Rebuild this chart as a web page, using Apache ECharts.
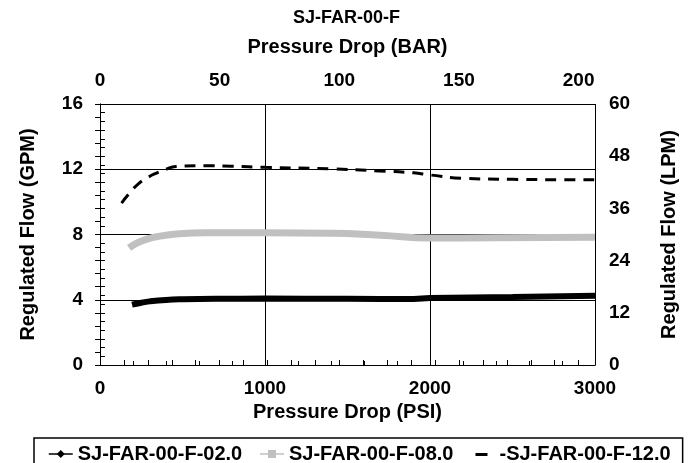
<!DOCTYPE html>
<html>
<head>
<meta charset="utf-8">
<script src="https://cdn.jsdelivr.net/npm/echarts@6/dist/echarts.min.js"></script>
<style>
  html, body { margin: 0; padding: 0; background: #fff; }
  #chart { width: 693px; height: 463px; }
</style>
</head>
<body>
<div id="chart"></div>
<script>
// SJ-FAR-00-F flow curves (pressure drop psi -> regulated flow gpm)
var psi02 = [194, 250, 300, 400, 500, 700, 1000, 1500, 1900, 2000, 2500, 3000];
var gpm02 = [3.7, 3.82, 3.9, 3.99, 4.03, 4.06, 4.07, 4.06, 4.05, 4.1, 4.17, 4.25];

var psi08 = [176, 220, 279, 350, 479, 650, 1000, 1400, 1700, 2000, 2400, 3000];
var gpm08 = [7.18, 7.45, 7.7, 7.88, 8.04, 8.1, 8.1, 8.08, 7.95, 7.78, 7.8, 7.83];

var psi12 = [131, 180, 236, 290, 339, 400, 460, 642, 800, 1000, 1400, 1691, 1900, 2000, 2195, 2500, 3000];
var gpm12 = [9.93, 10.55, 11.14, 11.5, 11.75, 12.0, 12.17, 12.22, 12.18, 12.12, 12.02, 11.9, 11.78, 11.65, 11.45, 11.38, 11.35];

var seriesNames = ['SJ-FAR-00-F-02.0', 'SJ-FAR-00-F-08.0', '-SJ-FAR-00-F-12.0'];

var PSI_PER_BAR = 14.5038;
var font = 'Liberation Sans, Arial, sans-serif';

function pairs(xs, ys) {
  var out = [];
  for (var i = 0; i < xs.length; i++) out.push([xs[i], ys[i]]);
  return out;
}

var myChart = echarts.init(document.getElementById('chart'));

var lbl = { color: '#000', fontWeight: 'bold', fontSize: 19, fontFamily: font,
            formatter: function (v) { return String(v); } };
var nameStyle = { color: '#000', fontWeight: 'bold', fontSize: 20, fontFamily: font };
var axLine = { show: true, lineStyle: { color: '#000', width: 1 } };
var blackTick = { color: '#000', width: 1 };

var option = {
  animation: false,
  title: {
    text: 'SJ-FAR-00-F',
    left: 'center',
    top: 4,
    textStyle: { color: '#000', fontWeight: 'bold', fontSize: 18, fontFamily: font }
  },
  grid: { left: 100, right: 98, top: 104, bottom: 98 },
  legend: {
    left: 34,
    top: 438,
    width: 640,
    padding: [6, 12, 6, 14],
    itemGap: 17,
    itemWidth: 24,
    itemHeight: 10,
    borderColor: '#000',
    borderWidth: 1.5,
    textStyle: { color: '#000', fontWeight: 'bold', fontSize: 20, fontFamily: font },
    data: [
      { name: seriesNames[0], itemStyle: { color: '#000' }, lineStyle: { width: 1.5 } },
      { name: seriesNames[1], itemStyle: { color: '#c0c0c0' }, lineStyle: { width: 1.5 } },
      { name: seriesNames[2], icon: 'path://M0,0L0.1,0M5,4L17,4L17,7L5,7ZM24,10L23.9,10',
        itemStyle: { color: '#000' } }
    ]
  },
  xAxis: [{
    type: 'value',
    position: 'bottom',
    min: 0, max: 3000, interval: 1000,
    name: 'Pressure Drop (PSI)',
    nameLocation: 'middle',
    nameGap: 31,
    nameTextStyle: nameStyle,
    axisLine: axLine,
    axisTick: { show: true, inside: true, length: 4, lineStyle: blackTick },
    minorTick: { show: true, splitNumber: 5, length: 4, lineStyle: blackTick },
    axisLabel: Object.assign({ margin: 14 }, lbl),
    splitLine: { show: true, lineStyle: { color: '#000', width: 1 } }
  }, {
    type: 'value',
    position: 'top',
    min: 0, max: 3000 / PSI_PER_BAR, interval: 50,
    name: 'Pressure Drop (BAR)',
    nameLocation: 'middle',
    nameGap: 47,
    nameTextStyle: nameStyle,
    axisLine: axLine,
    axisTick: { show: true, length: 5, lineStyle: blackTick },
    minorTick: { show: true, splitNumber: 5, length: 5, lineStyle: blackTick },
    axisLabel: Object.assign({ margin: 14, showMaxLabel: false }, lbl),
    splitLine: { show: false }
  }],
  yAxis: [{
    type: 'value',
    position: 'left',
    min: 0, max: 16, interval: 4,
    name: 'Regulated Flow (GPM)',
    nameLocation: 'middle',
    nameGap: 62,
    nameTextStyle: nameStyle,
    axisLine: axLine,
    axisTick: { show: true, length: 5, lineStyle: blackTick },
    minorTick: { show: true, splitNumber: 5, length: 5, lineStyle: blackTick },
    axisLabel: Object.assign({ margin: 17 }, lbl),
    splitLine: { show: true, lineStyle: { color: '#000', width: 1 } }
  }, {
    type: 'value',
    position: 'right',
    min: 0, max: 60, interval: 12,
    name: 'Regulated Flow (LPM)',
    nameLocation: 'middle',
    nameGap: 64,
    nameRotate: 90,
    nameTextStyle: nameStyle,
    axisLine: axLine,
    axisTick: { show: true, length: 5, lineStyle: blackTick },
    minorTick: { show: true, splitNumber: 6, length: 5, lineStyle: blackTick },
    axisLabel: Object.assign({ margin: 14 }, lbl),
    splitLine: { show: false }
  }],
  series: [{
    name: seriesNames[0],
    type: 'line',
    smooth: true,
    symbol: 'diamond',
    symbolSize: 7,
    showSymbol: false,
    itemStyle: { color: '#000' },
    lineStyle: { color: '#000', width: 6 },
    data: pairs(psi02, gpm02)
  }, {
    name: seriesNames[1],
    type: 'line',
    smooth: true,
    symbol: 'rect',
    symbolSize: 6,
    showSymbol: false,
    itemStyle: { color: '#c0c0c0' },
    lineStyle: { color: '#c0c0c0', width: 7 },
    data: pairs(psi08, gpm08)
  }, {
    name: seriesNames[2],
    type: 'line',
    smooth: true,
    symbol: 'none',
    itemStyle: { color: '#000' },
    lineStyle: { color: '#000', width: 3, type: [11, 8] },
    data: pairs(psi12, gpm12)
  }]
};

myChart.setOption(option, true);
</script>
</body>
</html>
